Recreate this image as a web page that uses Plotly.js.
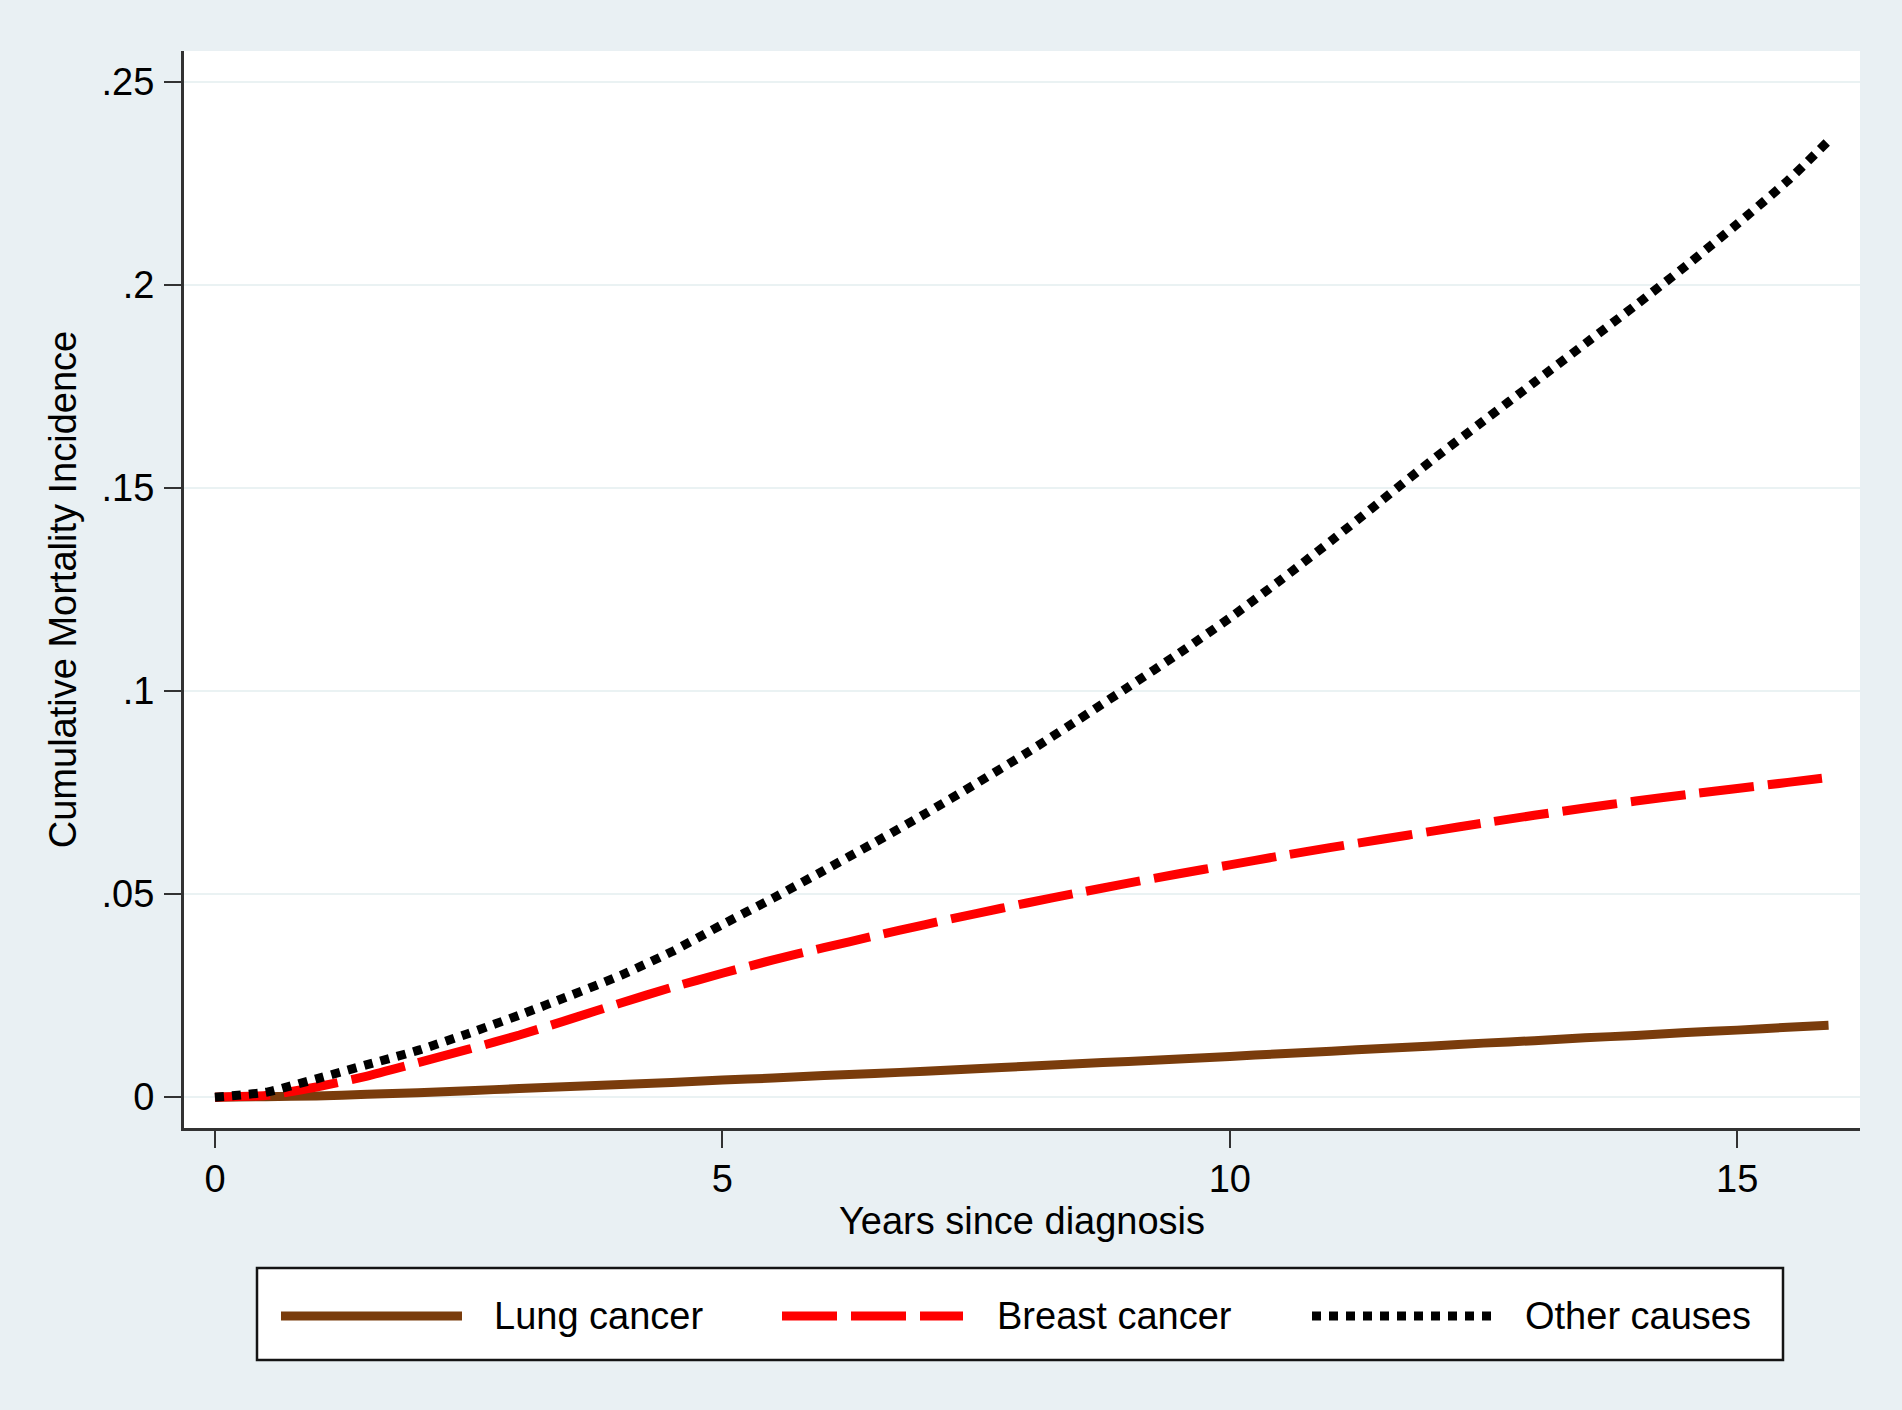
<!DOCTYPE html>
<html>
<head>
<meta charset="utf-8">
<script src="https://cdn.plot.ly/plotly-3.0.1.min.js"></script>
<style>
    html, body { margin: 0; padding: 0; background: #e9f0f3; }
    #chart { width: 1902px; height: 1410px; }
</style>
</head>
<body>
<div id="chart"></div>
<script>
// values
const years = [0, 0.5, 1, 1.5, 2, 2.5, 3, 3.5, 4, 4.5, 5, 5.5, 6, 6.5, 7, 7.5, 8, 8.5,
    9, 9.5, 10, 10.5, 11, 11.5, 12, 12.5, 13, 13.5, 14, 14.5, 15, 15.5, 15.9]

const lungCancer = [0, 0.0001, 0.0003, 0.0007, 0.0011, 0.0016, 0.0021, 0.0026, 0.0031, 0.0036,
    0.0042, 0.0047, 0.0053, 0.0058, 0.0064, 0.0070, 0.0076, 0.0082, 0.0088, 0.0094,
    0.0100, 0.0107, 0.0113, 0.0120, 0.0126, 0.0133, 0.0139, 0.0146, 0.0152, 0.0159,
    0.0165, 0.0172, 0.0177]

const breastCancer = [0, 0.0004, 0.0025, 0.0052, 0.0085, 0.0118, 0.0153, 0.0192, 0.0232, 0.0270,
    0.0305, 0.0338, 0.0368, 0.0397, 0.0425, 0.0452, 0.0478, 0.0503, 0.0527, 0.0550,
    0.0572, 0.0594, 0.0615, 0.0635, 0.0655, 0.0675, 0.0694, 0.0712, 0.0729, 0.0745,
    0.0760, 0.0775, 0.0787]

const otherCauses = [0, 0.0012, 0.0045, 0.0080, 0.0115, 0.0157, 0.0202, 0.0250, 0.0300, 0.0358,
    0.0425, 0.0490, 0.0558, 0.0627, 0.0698, 0.0772, 0.0848, 0.0928, 0.1010, 0.1093,
    0.1180, 0.1273, 0.1370, 0.1470, 0.1570, 0.1665, 0.1760, 0.1855, 0.1950, 0.2048,
    0.2150, 0.2257, 0.2355]

const seriesNames = ["Lung cancer", "Breast cancer", "Other causes"]
const xTicks = [0, 5, 10, 15]
const yTicks = [0, 0.05, 0.1, 0.15, 0.2, 0.25]
const yTickText = ["0", ".05", ".1", ".15", ".2", ".25"]

// styles
const colors = ["rgb(122, 60, 12)", "rgb(255, 0, 0)", "rgb(0, 0, 0)"]
const dashes = ["solid", "55px,14px", "9px,8px"]
const lineWidth = 9
const fontFamily = "'Liberation Sans', Arial, sans-serif"
const fontSize = 38

const W = 1902, H = 1410
const margin = {l: 184, r: 42, t: 51, b: 282}

// pixel -> paper helpers for the hand drawn legend box
function paperX(px) {
    return (px - margin.l) / (W - margin.l - margin.r)
}
function paperY(py) {
    return (H - margin.b - py) / (H - margin.t - margin.b)
}

const allSeries = [lungCancer, breastCancer, otherCauses]

let plotData = []
for (let i = 0; i < allSeries.length; i++) {
    plotData.push({
        type: "scatter",
        mode: "lines",
        x: years,
        y: allSeries[i],
        name: seriesNames[i],
        line: {
            color: colors[i],
            dash: dashes[i],
            width: lineWidth,
            shape: "spline",
            smoothing: 0.5
        },
        hoverinfo: "skip"
    })
}

// legend (Stata style: long samples inside a framed box under the plot)
const legendBox = {left: 257, right: 1783, top: 1268, bottom: 1360}
const sampleStarts = [281, 782, 1312]
const sampleLength = 181
const labelStarts = [492, 995, 1523]
const legendMid = 1316

let shapes = [{
    type: "rect",
    xref: "paper", yref: "paper",
    x0: paperX(legendBox.left), x1: paperX(legendBox.right),
    y0: paperY(legendBox.bottom), y1: paperY(legendBox.top),
    fillcolor: "white",
    line: {color: "rgb(20, 20, 20)", width: 2.5},
    layer: "below"
}]
let annotations = []
for (let i = 0; i < seriesNames.length; i++) {
    shapes.push({
        type: "line",
        xref: "paper", yref: "paper",
        x0: paperX(sampleStarts[i]), x1: paperX(sampleStarts[i] + sampleLength),
        y0: paperY(legendMid), y1: paperY(legendMid),
        line: {color: colors[i], dash: dashes[i], width: lineWidth}
    })
    annotations.push({
        xref: "paper", yref: "paper",
        x: paperX(labelStarts[i]), y: paperY(legendMid),
        xanchor: "left", yanchor: "middle",
        text: seriesNames[i],
        showarrow: false,
        font: {family: fontFamily, size: fontSize, color: "black"}
    })
}

let plotLayout = {
    width: W,
    height: H,
    margin: margin,
    paper_bgcolor: "#e9f0f3",
    plot_bgcolor: "white",
    font: {family: fontFamily, size: fontSize, color: "black"},
    showlegend: false,
    xaxis: {
        range: [-0.305, 16.21],
        tickvals: xTicks,
        ticks: "outside",
        ticklen: 17,
        tickwidth: 2,
        tickcolor: "rgb(50, 50, 50)",
        ticklabelstandoff: -2,
        showline: true,
        linecolor: "rgb(50, 50, 50)",
        linewidth: 3,
        showgrid: false,
        zeroline: false,
        title: {text: "Years since diagnosis", standoff: 9, font: {size: fontSize}}
    },
    yaxis: {
        range: [-0.0076, 0.2576],
        tickvals: yTicks,
        ticktext: yTickText,
        ticks: "outside",
        ticklen: 17,
        tickwidth: 2,
        tickcolor: "rgb(50, 50, 50)",
        ticklabelstandoff: 2,
        showline: true,
        linecolor: "rgb(50, 50, 50)",
        linewidth: 3,
        showgrid: true,
        gridcolor: "rgb(234, 242, 243)",
        gridwidth: 2,
        zeroline: false,
        title: {text: "Cumulative Mortality Incidence", standoff: 14, font: {size: fontSize}}
    },
    shapes: shapes,
    annotations: annotations
}

Plotly.newPlot("chart", plotData, plotLayout, {staticPlot: true})
</script>
</body>
</html>
